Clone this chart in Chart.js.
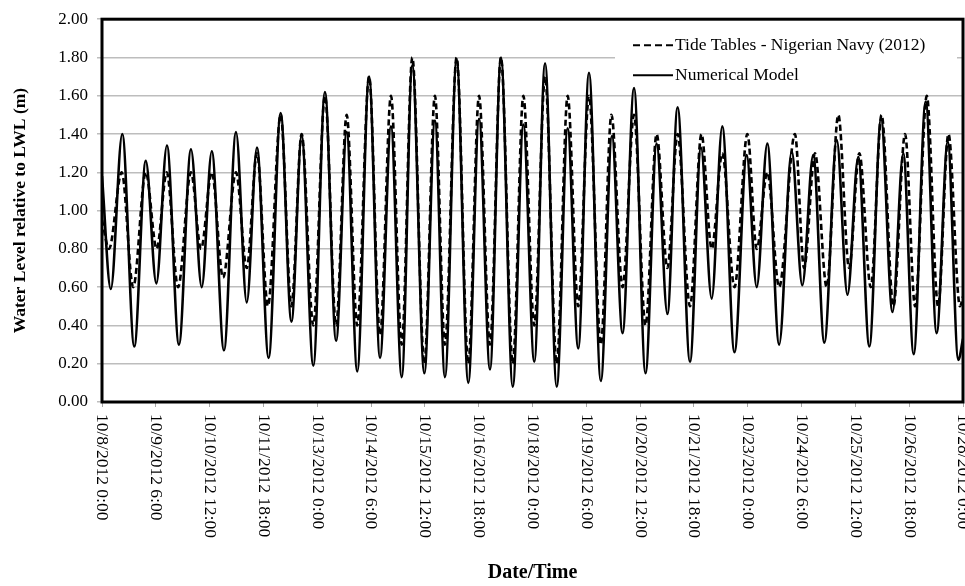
<!DOCTYPE html>
<html>
<head>
<meta charset="utf-8">
<script src="https://cdn.jsdelivr.net/npm/chart.js@4"></script>
<style>
  html, body { margin: 0; padding: 0; background: #fff; }
  #wrap { width: 965px; height: 586px; }
</style>
</head>
<body>
<div id="wrap"><canvas id="tideChart"></canvas></div>
<script>
const modelHours = [0,4.9,11.3,18.0,24.4,30.3,36.2,42.9,49.6,55.6,
  61.2,68.0,74.7,80.7,86.4,92.9,99.6,105.6,111.3,117.8,
  124.3,130.5,136.4,142.3,148.9,155.0,161.1,167.1,173.0,179.7,
  185.6,191.2,197.7,204.2,210.2,216.3,222.4,229.0,234.9,241.0,
  247.0,253.5,259.6,265.5,271.5,278.1,284.3,290.2,296.6,303.0,
  309.2,315.2,320.9,327.8,333.9,339.9,345.8,352.6,359.4,365.0,
  370.9,377.5,384.5,390.4,396.5,402.7,409.6,415.6,421.6,427.8,
  434.3,440.7,446.7,452.5,459.2,465.3,471.5,477.4,480];
const modelLevel = [1.18,0.59,1.40,0.29,1.26,0.62,1.34,0.30,1.32,0.60,
  1.31,0.27,1.41,0.52,1.33,0.23,1.51,0.42,1.39,0.19,
  1.62,0.32,1.41,0.16,1.70,0.23,1.44,0.13,1.76,0.15,
  1.47,0.13,1.79,0.10,1.48,0.17,1.80,0.08,1.45,0.21,
  1.77,0.08,1.43,0.28,1.72,0.11,1.39,0.36,1.64,0.15,
  1.35,0.46,1.54,0.21,1.33,0.54,1.44,0.26,1.29,0.60,
  1.35,0.30,1.31,0.61,1.29,0.31,1.37,0.56,1.28,0.29,
  1.48,0.47,1.30,0.25,1.57,0.36,1.36,0.22,0.33];

const tideHours = [0,3.9,11.0,17.4,24.4,30.5,36.1,42.4,49.6,55.2,
  61.2,67.5,74.7,80.7,86.4,92.5,99.6,105.6,111.3,117.8,
  124.3,130.5,136.4,142.3,148.9,155.0,161.1,167.1,173.0,179.7,
  185.6,191.2,197.7,204.2,210.2,216.3,222.4,229.0,234.9,241.0,
  247.0,253.5,259.6,265.5,271.5,278.1,284.0,290.2,296.6,303.0,
  309.2,315.2,320.9,327.8,334.2,339.9,345.8,352.6,359.8,365.0,
  370.9,377.5,386.3,391.4,397.5,404.0,410.5,416.5,422.2,428.6,
  434.6,441.2,447.7,453.3,459.8,466.1,471.9,478.3,480];
const tideLevel = [0.95,0.80,1.20,0.60,1.20,0.80,1.20,0.60,1.20,0.80,
  1.20,0.65,1.20,0.70,1.30,0.50,1.50,0.50,1.40,0.40,
  1.60,0.40,1.50,0.40,1.70,0.35,1.60,0.30,1.80,0.20,
  1.60,0.30,1.80,0.20,1.60,0.30,1.80,0.20,1.60,0.40,
  1.70,0.20,1.60,0.50,1.60,0.30,1.50,0.60,1.50,0.40,
  1.40,0.70,1.40,0.50,1.40,0.80,1.30,0.60,1.40,0.80,
  1.20,0.60,1.40,0.70,1.30,0.60,1.50,0.70,1.30,0.60,
  1.50,0.50,1.40,0.50,1.60,0.50,1.40,0.50,0.55];

const xTickHours = [0,30,60,90,120,150,180,210,240,270,300,330,360,390,420,450,480];
const tickLabels = ["10/8/2012 0:00","10/9/2012 6:00","10/10/2012 12:00","10/11/2012 18:00",
  "10/13/2012 0:00","10/14/2012 6:00","10/15/2012 12:00","10/16/2012 18:00",
  "10/18/2012 0:00","10/19/2012 6:00","10/20/2012 12:00","10/21/2012 18:00",
  "10/23/2012 0:00","10/24/2012 6:00","10/25/2012 12:00","10/26/2012 18:00",
  "10/28/2012 0:00"];
const yTickValues = [0,0.2,0.4,0.6,0.8,1.0,1.2,1.4,1.6,1.8,2.0];

const serif = "'Liberation Serif', 'Times New Roman', serif";

const toPoints = (xs, ys) => xs.map((h, i) => ({ x: h, y: ys[i] }));

// date labels run top-to-bottom under each tick, like the Excel original
const verticalDates = {
  id: "verticalDates",
  afterDraw(chart) {
    const ctx = chart.ctx;
    const xs = chart.scales.x;
    ctx.save();
    ctx.font = "17.5px " + serif;
    ctx.fillStyle = "#000";
    ctx.textAlign = "left";
    ctx.textBaseline = "middle";
    xs.ticks.forEach((t, i) => {
      ctx.save();
      ctx.translate(xs.getPixelForValue(t.value), xs.top + 12);
      ctx.rotate(Math.PI / 2);
      ctx.fillText(tickLabels[i], 0, 0);
      ctx.restore();
    });
    ctx.restore();
  }
};

// plot frame + boxed legend in the upper right corner
const frameAndLegend = {
  id: "frameAndLegend",
  afterDatasetsDraw(chart) {
    const { ctx, chartArea: a } = chart;
    ctx.save();
    ctx.strokeStyle = "#000";
    ctx.lineWidth = 3;
    ctx.strokeRect(a.left, a.top, a.right - a.left, a.bottom - a.top);

    const boxLeft = a.right - 348;
    ctx.fillStyle = "#fff";
    ctx.fillRect(boxLeft, a.top + 2, 342, 63);

    ctx.font = "17.5px " + serif;
    ctx.textBaseline = "middle";
    ctx.textAlign = "left";
    chart.data.datasets.forEach((ds, i) => {
      const y = a.top + 26 + i * 30;
      ctx.strokeStyle = ds.borderColor;
      ctx.lineWidth = 2;
      ctx.setLineDash(ds.borderDash ? [7, 4] : []);
      ctx.beginPath();
      ctx.moveTo(boxLeft + 18, y);
      ctx.lineTo(boxLeft + 58, y);
      ctx.stroke();
      ctx.setLineDash([]);
      ctx.fillStyle = "#000";
      ctx.fillText(ds.label, boxLeft + 60, y);
    });
    ctx.restore();
  }
};

new Chart(document.getElementById("tideChart"), {
  type: "line",
  data: {
    datasets: [
      {
        label: "Tide Tables - Nigerian Navy (2012)",
        data: toPoints(tideHours, tideLevel),
        borderColor: "#000",
        borderWidth: 2.6,
        borderDash: [6, 3.5],
        pointRadius: 0,
        cubicInterpolationMode: "monotone",
        order: 1
      },
      {
        label: "Numerical Model",
        data: toPoints(modelHours, modelLevel),
        borderColor: "#000",
        borderWidth: 2.6,
        pointRadius: 0,
        cubicInterpolationMode: "monotone",
        order: 0
      }
    ]
  },
  options: {
    responsive: true,
    maintainAspectRatio: false,
    animation: false,
    devicePixelRatio: 1,
    layout: { padding: { top: 15, right: 2, left: 0, bottom: 0 } },
    plugins: { legend: { display: false }, tooltip: { enabled: false } },
    scales: {
      x: {
        type: "linear",
        min: 0,
        max: 480,
        afterBuildTicks: s => { s.ticks = xTickHours.map(v => ({ value: v })); },
        afterFit: s => { s.height = 184; },
        ticks: { display: false },
        grid: { drawOnChartArea: false, drawTicks: true, tickLength: 5, color: "#a6a6a6" },
        border: { display: false },
        title: {
          display: true,
          text: "Date/Time",
          color: "#000",
          font: { family: serif, size: 20, weight: "bold" },
          padding: { top: 0, bottom: 1 }
        }
      },
      y: {
        min: 0,
        max: 2,
        afterBuildTicks: s => { s.ticks = yTickValues.map(v => ({ value: v })); },
        afterFit: s => { s.width = 102; },
        ticks: {
          callback: v => v.toFixed(2),
          color: "#000",
          font: { family: serif, size: 17 },
          padding: 9
        },
        grid: { color: "#bdbdbd", lineWidth: 1.5, tickLength: 5 },
        border: { display: false },
        title: {
          display: true,
          text: "Water Level relative to LWL (m)",
          color: "#000",
          font: { family: serif, size: 17.5, weight: "bold" },
          padding: { top: 10, bottom: 0 }
        }
      }
    }
  },
  plugins: [frameAndLegend, verticalDates]
});
</script>
</body>
</html>
